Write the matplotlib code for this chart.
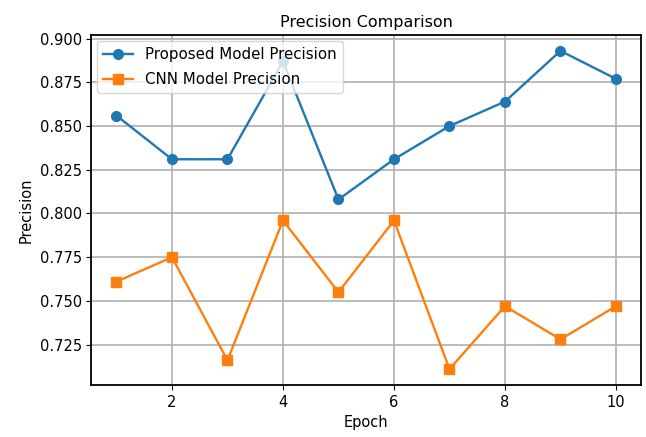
import numpy as np
import matplotlib.pyplot as plt

plt.rcParams['font.family'] = 'DejaVu Sans'
plt.rcParams['font.size'] = 10.5
plt.rcParams['axes.linewidth'] = 1.3
plt.rcParams['lines.linewidth'] = 1.7

# Data
epochs = np.arange(1, 11)
proposed_precision = [0.856, 0.831, 0.831, 0.887, 0.808, 0.831, 0.850, 0.864, 0.893, 0.877]
cnn_precision = [0.761, 0.775, 0.716, 0.796, 0.755, 0.796, 0.711, 0.747, 0.728, 0.747]

fig = plt.figure(figsize=(6.46, 4.37), dpi=100)
ax = fig.add_axes([0.1416, 0.119, 0.8506, 0.801])

ax.plot(epochs, proposed_precision, marker='o', markersize=7, label="Proposed Model Precision")
ax.plot(epochs, cnn_precision, marker='s', markersize=7, label="CNN Model Precision")
ax.set_title("Precision Comparison", fontsize=11.5)
ax.set_xlabel("Epoch")
ax.set_ylabel("Precision")
ax.legend(loc="upper left", fontsize=10.8, borderaxespad=0.4, labelspacing=0.7)
ax.grid(True, linewidth=1.2)

fig.savefig("out.png")
